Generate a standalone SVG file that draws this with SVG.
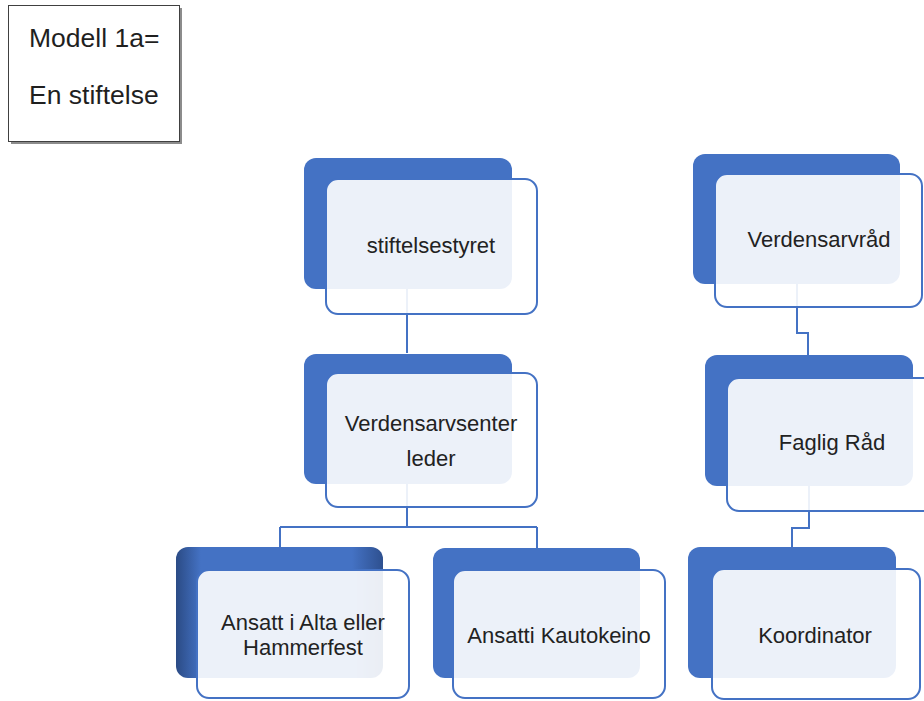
<svg xmlns="http://www.w3.org/2000/svg" width="924" height="701" viewBox="0 0 924 701">
<defs>
<linearGradient id="shade" x1="0" y1="0" x2="1" y2="0">
<stop offset="0" stop-color="#2B4B85"/>
<stop offset="0.12" stop-color="#4472C4"/>
<stop offset="0.85" stop-color="#4472C4"/>
<stop offset="1" stop-color="#2E508F"/>
</linearGradient>
</defs>
<style>
.back{fill:#4472C4}
.front{fill:#FFFFFF;fill-opacity:0.9;stroke:#4472C4;stroke-width:2}
.conn{fill:none;stroke:#4472C4;stroke-width:2}
.lbl{font-family:"Liberation Sans",Arial,sans-serif;font-size:22px;fill:#222222;text-anchor:middle}
.title{font-family:"Liberation Sans",Arial,sans-serif;font-size:26.5px;fill:#1F1F1F}
</style>
<rect width="924" height="701" fill="#FFFFFF"/>
<g id="title">
<rect x="11" y="8" width="171" height="136" fill="#8C8C8C"/>
<rect x="8.5" y="5.5" width="171" height="136" fill="#FFFFFF" stroke="#404040" stroke-width="1"/>
<text class="title" x="29" y="47">Modell 1a=</text>
<text class="title" x="29" y="104">En stiftelse</text>
</g>
<g id="connectors">
<path class="conn" d="M407,289 V353"/>
<path class="conn" d="M407,484 V527 M280,527 H537 M280,527 V548 M537,527 V548"/>
<path class="conn" d="M797,284 V333 H808 V355"/>
<path class="conn" d="M809,486 V528 H792 V547"/>
</g>
<g id="stiftelsestyret">
<rect class="back" x="304" y="158" width="208" height="131" rx="12"/>
<rect class="front" x="326" y="179" width="211" height="135" rx="12"/>
<text class="lbl" x="431" y="253">stiftelsestyret</text>
</g>
<g id="verdensarvsenter">
<rect class="back" x="304" y="354" width="208" height="130" rx="12"/>
<rect class="front" x="326" y="373" width="211" height="134" rx="12"/>
<text class="lbl" x="431" y="431">Verdensarvsenter</text>
<text class="lbl" x="431" y="466">leder</text>
</g>
<g id="ansatt-alta">
<rect x="176" y="547" width="207" height="131" rx="12" fill="url(#shade)"/>
<rect class="front" x="197" y="570" width="212" height="128" rx="12"/>
<text class="lbl" x="303" y="630">Ansatt i Alta eller</text>
<text class="lbl" x="303" y="655">Hammerfest</text>
</g>
<g id="ansatti-kautokeino">
<rect class="back" x="433" y="548" width="207" height="130" rx="12"/>
<rect class="front" x="453" y="570" width="212" height="128" rx="12"/>
<text class="lbl" x="559" y="643">Ansatti Kautokeino</text>
</g>
<g id="verdensarvraad">
<rect class="back" x="693" y="154" width="207" height="130" rx="12"/>
<rect class="front" x="715" y="174" width="207" height="133" rx="12"/>
<text class="lbl" x="819" y="247">Verdensarvråd</text>
</g>
<g id="faglig-raad">
<rect class="back" x="705" y="355" width="208" height="131" rx="12"/>
<rect class="front" x="727" y="378" width="211" height="133" rx="12"/>
<text class="lbl" x="832" y="450">Faglig Råd</text>
</g>
<g id="koordinator">
<rect class="back" x="688" y="547" width="208" height="131" rx="12"/>
<rect class="front" x="712" y="569" width="208" height="130" rx="12"/>
<text class="lbl" x="815" y="643">Koordinator</text>
</g>
</svg>
